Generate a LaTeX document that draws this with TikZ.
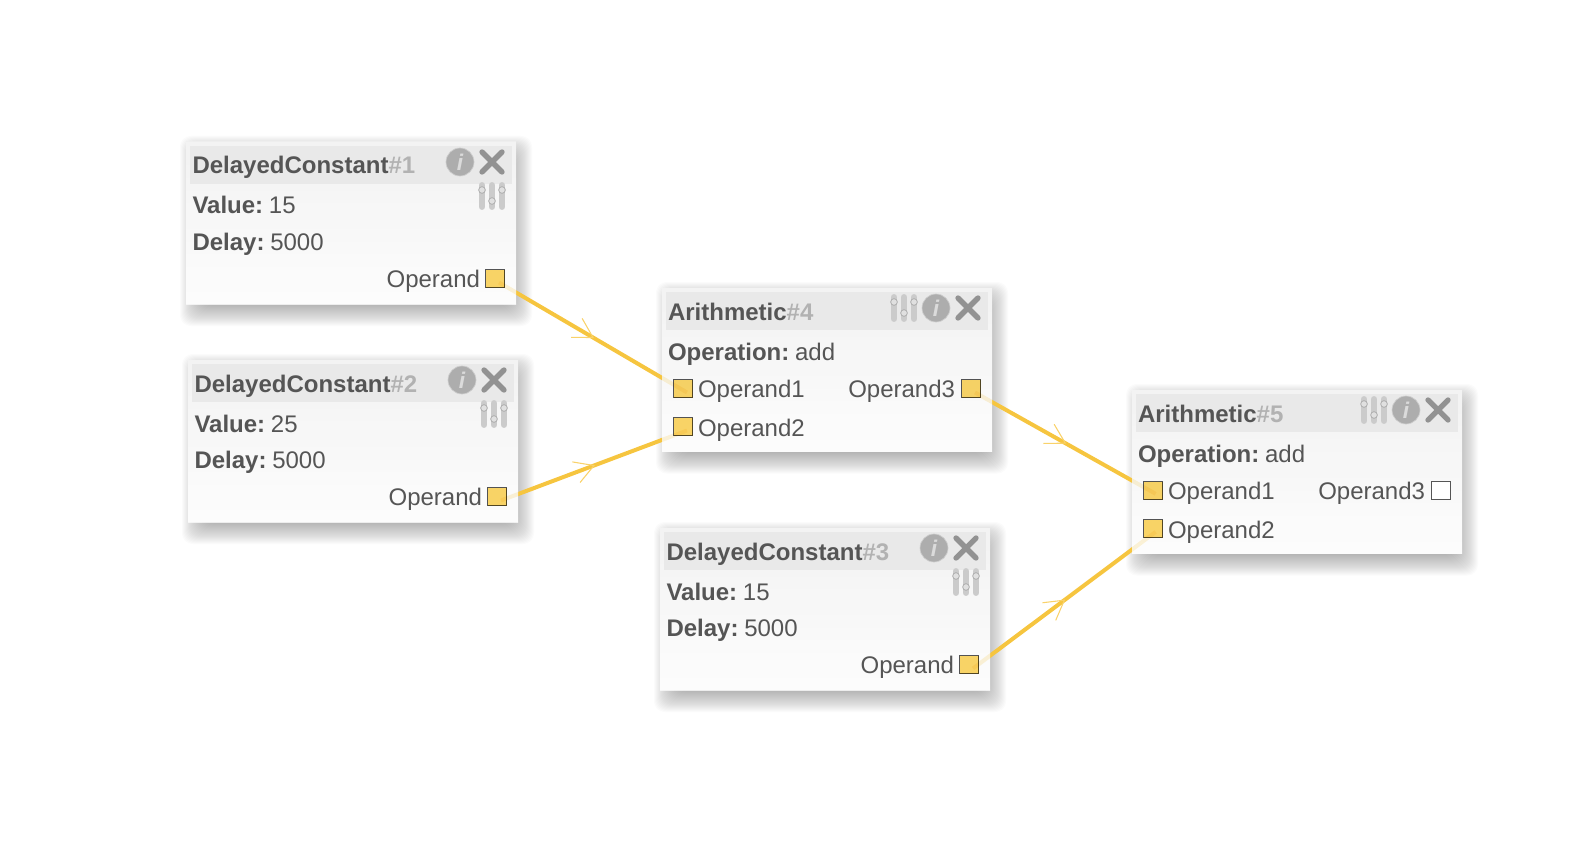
\documentclass[tikz,border=0pt]{standalone}
\usepackage{fontspec}
\setmainfont{Liberation Sans}
\usetikzlibrary{decorations.markings}
\definecolor{txt}{HTML}{555555}
\definecolor{hashc}{HTML}{B2B2B2}
\definecolor{headc}{HTML}{E9E9E9}
\definecolor{wirec}{HTML}{F6C53F}
\definecolor{armc}{HTML}{F9D26A}
\definecolor{portc}{HTML}{FCD768}
\definecolor{infoc}{HTML}{ADADAD}
\definecolor{xc}{HTML}{929292}
\definecolor{slc}{HTML}{CBCBCB}
\pgfdeclarelayer{shadowl}
\pgfdeclarelayer{basel}
\pgfdeclarelayer{wirel}
\pgfsetlayers{shadowl,basel,wirel,main}
\tikzset{
  boxbase/.style={anchor=north west,inner sep=0pt,outer sep=0pt,minimum width=247.5pt,fill=white},
  boxtop/.style={anchor=north west,inner sep=0pt,outer sep=0pt,minimum width=247.5pt,top color=white!94!black,bottom color=white!99!black,fill opacity=.8,opacity=.8},
  header/.style={anchor=north west,inner sep=0pt,outer sep=0pt,minimum width=241.5pt,minimum height=28.5pt,fill=headc},
  txtl/.style={anchor=base west,inner sep=0pt,outer sep=0pt,text=txt,font=\fontsize{18}{20}\selectfont},
  txtr/.style={txtl,anchor=base east},
  port/.style={rectangle,inner sep=0pt,outer sep=0pt,minimum width=14.25pt,minimum height=13.5pt,draw=txt,line width=.75pt,fill=portc,blend mode=multiply},
  portfree/.style={rectangle,inner sep=0pt,outer sep=0pt,minimum width=14.25pt,minimum height=13.5pt,draw=txt,line width=.75pt,fill=white},
  infoicon/.style={circle,inner sep=0pt,minimum size=21pt,fill=infoc,draw=infoc!60,line width=.5pt,text=white!86!black,font=\fontsize{17}{17}\selectfont\bfseries\itshape},
  xicon/.style={xc,line width=4pt,line cap=round},
  slbar/.style={slc,line width=5.2pt,line cap=round},
  slknob/.style={circle,inner sep=0pt,minimum size=5pt,fill=white!88!black,draw=white!68!black,line width=.6pt},
  wire/.style={wirec,line width=3pt,postaction={decorate},decoration={markings,mark=at position .5 with {\draw[armc,line width=.8pt] (-19,-11)--(0,0)--(-19,11);}}},
}
\newcommand{\shadowstack}[3]{% x y height
  \begin{pgfonlayer}{shadowl}
    \begin{scope}[shift={(#1,#2)}]
      \foreach \s in {-8,...,20}{
        \fill[black,opacity=.014,rounded corners=8pt] (14-\s,14-\s) rectangle (326+\s,#3+2+\s);
      }
    \end{scope}
  \end{pgfonlayer}
}
\newcommand{\iconset}[1]{%
  \node[infoicon] (#1i) at (274,20) {i};
  \coordinate (#1xa) at (296,10); \coordinate (#1xb) at (316,30);
  \coordinate (#1xc) at (316,10); \coordinate (#1xd) at (296,30);
  \draw[xicon] (#1xa) -- (#1xb);
  \draw[xicon] (#1xc) -- (#1xd);
}
\newcommand{\sliderset}[3]{% name, cx, cy
  \foreach \d/\k [count=\n] in {-10/-6,0/5,10/-6}{
    \coordinate (#1sa\n) at (#2+\d,#3-10.5); \coordinate (#1sb\n) at (#2+\d,#3+10.5);
    \draw[slbar] (#1sa\n) -- (#1sb\n);
    \node[slknob] (#1k\n) at (#2+\d,#3+\k) {};
  }
}
\newcommand{\nodeframe}[4]{% name x y height
  \shadowstack{#2}{#3}{#4}
  \begin{pgfonlayer}{basel}
    \node[boxbase,minimum height=#4*.75pt] (#1base) at (#2,#3) {};
  \end{pgfonlayer}
  \begin{scope}[shift={(#2,#3)}]
    \node[boxtop,minimum height=#4*.75pt] (#1) at (0,0) {};
    \node[header] (#1head) at (4,4) {};
  \end{scope}
}
\newcommand{\keyval}[2]{\textbf{#1:}\kern-.7pt\ #2}
% DelayedConstant box: name x y number value
\newcommand{\dcbox}[5]{%
  \nodeframe{#1}{#2}{#3}{162}
  \begin{scope}[shift={(#2,#3)}]
    \node[txtl] (#1t) at (6.5,32) {\textbf{DelayedConstant}\textcolor{hashc}{\textbf{\##4}}};
    \iconset{#1}
    \sliderset{#1}{306}{54}
    \node[txtl] (#1v) at (6.5,72) {\keyval{Value}{#5}};
    \node[txtl] (#1d) at (6.5,108) {\keyval{Delay}{5000}};
    \node[txtr] (#1o) at (294,145.5) {Operand};
    \node[port] (#1p) at (309,136.5) {};
  \end{scope}
}
% Arithmetic box: name x y number port3style
\newcommand{\arbox}[5]{%
  \nodeframe{#1}{#2}{#3}{163.5}
  \begin{scope}[shift={(#2,#3)}]
    \node[txtl] (#1t) at (6,32) {\textbf{Arithmetic}\textcolor{hashc}{\textbf{\##4}}};
    \sliderset{#1}{242}{20}
    \iconset{#1}
    \node[txtl] (#1v) at (6,72) {\keyval{Operation}{add}};
    \node[txtl] (#1a) at (36,109.5) {Operand1};
    \node[txtr] (#1c) at (293,109.5) {Operand3};
    \node[txtl] (#1b) at (36,148) {Operand2};
    \node[port] (#1pa) at (21,100.5) {};
    \node[port] (#1pb) at (21,138.5) {};
    \node[#5] (#1pc) at (309,100.5) {};
  \end{scope}
}
\begin{document}
\begin{tikzpicture}[x=.75pt,y=-.75pt]
\useasboundingbox (0,0) rectangle (1590,852);
\dcbox{bone}{186}{142}{1}{15}
\dcbox{btwo}{188}{360}{2}{25}
\dcbox{bthree}{660}{528}{3}{15}
\arbox{bfour}{662}{288}{4}{port}
\arbox{bfive}{1132}{390}{5}{portfree}
\begin{pgfonlayer}{wirel}
  \draw[wire] ([shift={(3pt,-3pt)}]bonep.center) -- ([shift={(3pt,-3pt)}]bfourpa.center);
  \draw[wire] ([shift={(3pt,-3pt)}]btwop.center) -- ([shift={(3pt,-3pt)}]bfourpb.center);
  \draw[wire] ([shift={(3pt,-3pt)}]bfourpc.center) -- ([shift={(2pt,-2.5pt)}]bfivepa.center);
  \draw[wire] ([shift={(3pt,-3pt)}]bthreep.center) -- ([shift={(2pt,-2.5pt)}]bfivepb.center);
\end{pgfonlayer}
\end{tikzpicture}
\end{document}
